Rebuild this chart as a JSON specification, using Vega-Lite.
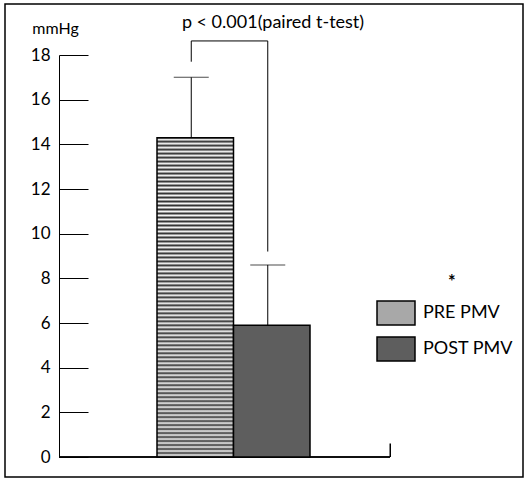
{
  "$schema": "https://vega.github.io/schema/vega-lite/v6.json",
  "width": 518,
  "height": 473,
  "autosize": "none",
  "padding": {"left": 5, "top": 4, "right": 5, "bottom": 3},
  "background": "white",
  "config": {
    "font": "Lato",
    "view": {"stroke": "black", "strokeWidth": 1.5}
  },
  "title": {
    "text": "p < 0.001(paired t-test)",
    "fontSize": 18,
    "fontWeight": "normal",
    "color": "black",
    "anchor": "middle",
    "frame": "group",
    "baseline": "alphabetic",
    "offset": -42,
    "dx": 9
  },
  "datasets": {
    "bars": [
      {"group": "PRE PMV", "mean": 14.3, "upper": 17.0},
      {"group": "POST PMV", "mean": 5.9, "upper": 8.6}
    ],
    "bracket": [
      {"group": "PRE PMV", "y": 17.7, "i": 1},
      {"group": "PRE PMV", "y": 18.63, "i": 2},
      {"group": "POST PMV", "y": 18.63, "i": 3},
      {"group": "POST PMV", "y": 9.2, "i": 4}
    ]
  },
  "layer": [
    {
      "data": {"name": "bars"},
      "mark": {"type": "rule", "color": "black", "strokeWidth": 1.5, "strokeDash": [331, 1000], "strokeDashOffset": 1198},
      "encoding": {
        "y": {"datum": 0, "type": "quantitative"}
      }
    },
    {
      "data": {"name": "bars"},
      "mark": {"type": "bar", "stroke": "black", "strokeWidth": 1.5},
      "encoding": {
        "x": {
          "field": "group",
          "type": "nominal",
          "sort": ["PRE PMV", "POST PMV"],
          "scale": {"range": [152, 305], "paddingInner": 0, "paddingOuter": 0},
          "axis": null
        },
        "y": {
          "field": "mean",
          "type": "quantitative",
          "scale": {"domain": [-0.8955, 20.284], "nice": false, "zero": false},
          "axis": {
            "values": [0, 2, 4, 6, 8, 10, 12, 14, 16, 18],
            "offset": -54,
            "grid": false,
            "domainColor": "black",
            "domainWidth": 1,
            "domainDash": [402, 1000],
            "domainDashOffset": 1382,
            "tickSize": -29,
            "tickColor": "black",
            "tickWidth": 1,
            "labelPadding": 38,
            "labelFontSize": 17,
            "labelColor": "black",
            "title": "mmHg",
            "titleAngle": 0,
            "titleX": -4,
            "titleY": 29,
            "titleAlign": "center",
            "titleBaseline": "alphabetic",
            "titleFontSize": 16,
            "titleFontWeight": "normal",
            "titleColor": "black"
          }
        },
        "fill": {
          "condition": {
            "test": "datum.group === 'PRE PMV'",
            "value": {"gradient": "linear", "x1": 0, "y1": 0, "x2": 0, "y2": 1, "stops": [
              {"offset": 0, "color": "#333"}, {"offset": 0.00625, "color": "#f5f5f5"}, {"offset": 0.0125, "color": "#333"}, {"offset": 0.01875, "color": "#f5f5f5"}, {"offset": 0.025, "color": "#333"}, {"offset": 0.03125, "color": "#f5f5f5"}, {"offset": 0.0375, "color": "#333"}, {"offset": 0.04375, "color": "#f5f5f5"}, {"offset": 0.05, "color": "#333"}, {"offset": 0.05625, "color": "#f5f5f5"}, {"offset": 0.0625, "color": "#333"}, {"offset": 0.06875, "color": "#f5f5f5"}, {"offset": 0.075, "color": "#333"}, {"offset": 0.08125, "color": "#f5f5f5"}, {"offset": 0.0875, "color": "#333"}, {"offset": 0.09375, "color": "#f5f5f5"},
              {"offset": 0.1, "color": "#333"}, {"offset": 0.10625, "color": "#f5f5f5"}, {"offset": 0.1125, "color": "#333"}, {"offset": 0.11875, "color": "#f5f5f5"}, {"offset": 0.125, "color": "#333"}, {"offset": 0.13125, "color": "#f5f5f5"}, {"offset": 0.1375, "color": "#333"}, {"offset": 0.14375, "color": "#f5f5f5"}, {"offset": 0.15, "color": "#333"}, {"offset": 0.15625, "color": "#f5f5f5"}, {"offset": 0.1625, "color": "#333"}, {"offset": 0.16875, "color": "#f5f5f5"}, {"offset": 0.175, "color": "#333"}, {"offset": 0.18125, "color": "#f5f5f5"}, {"offset": 0.1875, "color": "#333"}, {"offset": 0.19375, "color": "#f5f5f5"},
              {"offset": 0.2, "color": "#333"}, {"offset": 0.20625, "color": "#f5f5f5"}, {"offset": 0.2125, "color": "#333"}, {"offset": 0.21875, "color": "#f5f5f5"}, {"offset": 0.225, "color": "#333"}, {"offset": 0.23125, "color": "#f5f5f5"}, {"offset": 0.2375, "color": "#333"}, {"offset": 0.24375, "color": "#f5f5f5"}, {"offset": 0.25, "color": "#333"}, {"offset": 0.25625, "color": "#f5f5f5"}, {"offset": 0.2625, "color": "#333"}, {"offset": 0.26875, "color": "#f5f5f5"}, {"offset": 0.275, "color": "#333"}, {"offset": 0.28125, "color": "#f5f5f5"}, {"offset": 0.2875, "color": "#333"}, {"offset": 0.29375, "color": "#f5f5f5"},
              {"offset": 0.3, "color": "#333"}, {"offset": 0.30625, "color": "#f5f5f5"}, {"offset": 0.3125, "color": "#333"}, {"offset": 0.31875, "color": "#f5f5f5"}, {"offset": 0.325, "color": "#333"}, {"offset": 0.33125, "color": "#f5f5f5"}, {"offset": 0.3375, "color": "#333"}, {"offset": 0.34375, "color": "#f5f5f5"}, {"offset": 0.35, "color": "#333"}, {"offset": 0.35625, "color": "#f5f5f5"}, {"offset": 0.3625, "color": "#333"}, {"offset": 0.36875, "color": "#f5f5f5"}, {"offset": 0.375, "color": "#333"}, {"offset": 0.38125, "color": "#f5f5f5"}, {"offset": 0.3875, "color": "#333"}, {"offset": 0.39375, "color": "#f5f5f5"},
              {"offset": 0.4, "color": "#333"}, {"offset": 0.40625, "color": "#f5f5f5"}, {"offset": 0.4125, "color": "#333"}, {"offset": 0.41875, "color": "#f5f5f5"}, {"offset": 0.425, "color": "#333"}, {"offset": 0.43125, "color": "#f5f5f5"}, {"offset": 0.4375, "color": "#333"}, {"offset": 0.44375, "color": "#f5f5f5"}, {"offset": 0.45, "color": "#333"}, {"offset": 0.45625, "color": "#f5f5f5"}, {"offset": 0.4625, "color": "#333"}, {"offset": 0.46875, "color": "#f5f5f5"}, {"offset": 0.475, "color": "#333"}, {"offset": 0.48125, "color": "#f5f5f5"}, {"offset": 0.4875, "color": "#333"}, {"offset": 0.49375, "color": "#f5f5f5"},
              {"offset": 0.5, "color": "#333"}, {"offset": 0.50625, "color": "#f5f5f5"}, {"offset": 0.5125, "color": "#333"}, {"offset": 0.51875, "color": "#f5f5f5"}, {"offset": 0.525, "color": "#333"}, {"offset": 0.53125, "color": "#f5f5f5"}, {"offset": 0.5375, "color": "#333"}, {"offset": 0.54375, "color": "#f5f5f5"}, {"offset": 0.55, "color": "#333"}, {"offset": 0.55625, "color": "#f5f5f5"}, {"offset": 0.5625, "color": "#333"}, {"offset": 0.56875, "color": "#f5f5f5"}, {"offset": 0.575, "color": "#333"}, {"offset": 0.58125, "color": "#f5f5f5"}, {"offset": 0.5875, "color": "#333"}, {"offset": 0.59375, "color": "#f5f5f5"},
              {"offset": 0.6, "color": "#333"}, {"offset": 0.60625, "color": "#f5f5f5"}, {"offset": 0.6125, "color": "#333"}, {"offset": 0.61875, "color": "#f5f5f5"}, {"offset": 0.625, "color": "#333"}, {"offset": 0.63125, "color": "#f5f5f5"}, {"offset": 0.6375, "color": "#333"}, {"offset": 0.64375, "color": "#f5f5f5"}, {"offset": 0.65, "color": "#333"}, {"offset": 0.65625, "color": "#f5f5f5"}, {"offset": 0.6625, "color": "#333"}, {"offset": 0.66875, "color": "#f5f5f5"}, {"offset": 0.675, "color": "#333"}, {"offset": 0.68125, "color": "#f5f5f5"}, {"offset": 0.6875, "color": "#333"}, {"offset": 0.69375, "color": "#f5f5f5"},
              {"offset": 0.7, "color": "#333"}, {"offset": 0.70625, "color": "#f5f5f5"}, {"offset": 0.7125, "color": "#333"}, {"offset": 0.71875, "color": "#f5f5f5"}, {"offset": 0.725, "color": "#333"}, {"offset": 0.73125, "color": "#f5f5f5"}, {"offset": 0.7375, "color": "#333"}, {"offset": 0.74375, "color": "#f5f5f5"}, {"offset": 0.75, "color": "#333"}, {"offset": 0.75625, "color": "#f5f5f5"}, {"offset": 0.7625, "color": "#333"}, {"offset": 0.76875, "color": "#f5f5f5"}, {"offset": 0.775, "color": "#333"}, {"offset": 0.78125, "color": "#f5f5f5"}, {"offset": 0.7875, "color": "#333"}, {"offset": 0.79375, "color": "#f5f5f5"},
              {"offset": 0.8, "color": "#333"}, {"offset": 0.80625, "color": "#f5f5f5"}, {"offset": 0.8125, "color": "#333"}, {"offset": 0.81875, "color": "#f5f5f5"}, {"offset": 0.825, "color": "#333"}, {"offset": 0.83125, "color": "#f5f5f5"}, {"offset": 0.8375, "color": "#333"}, {"offset": 0.84375, "color": "#f5f5f5"}, {"offset": 0.85, "color": "#333"}, {"offset": 0.85625, "color": "#f5f5f5"}, {"offset": 0.8625, "color": "#333"}, {"offset": 0.86875, "color": "#f5f5f5"}, {"offset": 0.875, "color": "#333"}, {"offset": 0.88125, "color": "#f5f5f5"}, {"offset": 0.8875, "color": "#333"}, {"offset": 0.89375, "color": "#f5f5f5"},
              {"offset": 0.9, "color": "#333"}, {"offset": 0.90625, "color": "#f5f5f5"}, {"offset": 0.9125, "color": "#333"}, {"offset": 0.91875, "color": "#f5f5f5"}, {"offset": 0.925, "color": "#333"}, {"offset": 0.93125, "color": "#f5f5f5"}, {"offset": 0.9375, "color": "#333"}, {"offset": 0.94375, "color": "#f5f5f5"}, {"offset": 0.95, "color": "#333"}, {"offset": 0.95625, "color": "#f5f5f5"}, {"offset": 0.9625, "color": "#333"}, {"offset": 0.96875, "color": "#f5f5f5"}, {"offset": 0.975, "color": "#333"}, {"offset": 0.98125, "color": "#f5f5f5"}, {"offset": 0.9875, "color": "#333"}, {"offset": 0.99375, "color": "#f5f5f5"},
              {"offset": 1, "color": "#333"}
            ]}
          },
          "field": "group",
          "type": "nominal",
          "sort": ["PRE PMV", "POST PMV"],
          "scale": {"range": ["#a8a8a8", "#5e5e5e"]},
          "legend": {
            "orient": "none",
            "legendX": 378,
            "legendY": 270,
            "title": "*",
            "titleFontSize": 18,
            "titleFontWeight": "bold",
            "titleColor": "black",
            "titleAnchor": "middle",
            "titleAlign": "left",
            "titlePadding": 8,
            "symbolType": "M-1.583,-1H1.583V1H-1.583Z",
            "symbolSize": 576,
            "symbolStrokeColor": "black",
            "symbolStrokeWidth": 1.5,
            "symbolOpacity": 1,
            "labelFontSize": 18,
            "labelColor": "black",
            "labelOffset": 14,
            "rowPadding": 6,
            "padding": 0
          }
        }
      }
    },
    {
      "data": {"name": "bars"},
      "mark": {"type": "rule", "color": "black", "strokeWidth": 1, "xOffset": -4},
      "encoding": {
        "x": {"field": "group", "type": "nominal", "sort": ["PRE PMV", "POST PMV"]},
        "y": {"field": "mean", "type": "quantitative"},
        "y2": {"field": "upper"}
      }
    },
    {
      "data": {"name": "bars"},
      "mark": {"type": "tick", "color": "black", "thickness": 1, "size": 35, "orient": "horizontal", "xOffset": -4},
      "encoding": {
        "x": {"field": "group", "type": "nominal", "sort": ["PRE PMV", "POST PMV"]},
        "y": {"field": "upper", "type": "quantitative"}
      }
    },
    {
      "data": {"name": "bracket"},
      "mark": {"type": "line", "color": "black", "strokeWidth": 1, "xOffset": -4},
      "encoding": {
        "x": {"field": "group", "type": "nominal", "sort": ["PRE PMV", "POST PMV"]},
        "y": {"field": "y", "type": "quantitative"},
        "order": {"field": "i"}
      }
    },
    {
      "data": {"name": "bars"},
      "transform": [{"filter": "datum.group === 'POST PMV'"}],
      "mark": {"type": "rule", "color": "black", "strokeWidth": 1.5, "xOffset": 118.5},
      "encoding": {
        "x": {"field": "group", "type": "nominal", "sort": ["PRE PMV", "POST PMV"]},
        "y": {"datum": 0},
        "y2": {"datum": 0.6}
      }
    }
  ]
}
